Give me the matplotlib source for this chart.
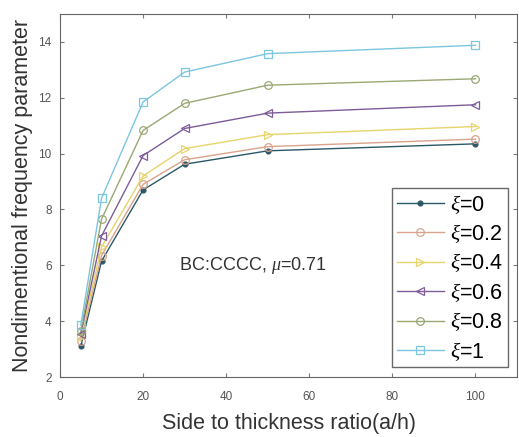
import matplotlib.pyplot as plt

plt.rcParams["font.family"] = ["Liberation Sans", "DejaVu Sans"]
plt.rcParams["mathtext.fontset"] = "custom"
plt.rcParams["mathtext.it"] = "Liberation Serif:italic"

# data
ratio = [5, 10, 20, 30, 50, 100]
xi_labels = ["0", "0.2", "0.4", "0.6", "0.8", "1"]
freq_xi0 = [3.10, 6.15, 8.70, 9.62, 10.10, 10.35]
freq_xi02 = [3.30, 6.35, 8.90, 9.78, 10.25, 10.52]
freq_xi04 = [3.45, 6.65, 9.20, 10.18, 10.68, 10.97]
freq_xi06 = [3.55, 7.05, 9.93, 10.90, 11.45, 11.75]
freq_xi08 = [3.65, 7.65, 10.83, 11.80, 12.45, 12.68]
freq_xi1 = [3.85, 8.40, 11.85, 12.92, 13.58, 13.88]

series = [freq_xi0, freq_xi02, freq_xi04, freq_xi06, freq_xi08, freq_xi1]
colors = ["#2b5868", "#d9a38c", "#e6d56a", "#7d5c98", "#9aa874", "#7cc6e0"]
markers = [".", "o", ">", "<", "o", "s"]

fig = plt.figure(figsize=(5.19, 4.37), dpi=100)
ax = fig.add_axes([60 / 519, 60 / 437, 457 / 519, 363 / 437])

for vals, lab, c, m in zip(series, xi_labels, colors, markers):
    filled = m == "."
    ax.plot(ratio, vals, color=c, marker=m, linewidth=1.0,
            markersize=7 if filled else 5.5,
            markerfacecolor=c if filled else "none",
            markeredgewidth=0.9, label=r"$\xi$=" + lab)

ax.set_xlim(0, 110)
ax.set_ylim(2, 15)
ax.set_xticks([0, 20, 40, 60, 80, 100])
ax.set_yticks([2, 4, 6, 8, 10, 12, 14])
ax.tick_params(direction="in", top=True, right=True, labelsize=8.5,
               labelcolor="#555555", color="#777777", length=3, pad=6)
ax.tick_params(axis="x", pad=10)
for s in ax.spines.values():
    s.set_color("#666666")

ax.set_xlabel("Side to thickness ratio(a/h)", fontsize=15.5, color="#333333",
              labelpad=7)
ax.set_ylabel("Nondimentional frequency parameter", fontsize=15.5, color="#333333",
              labelpad=4)

ax.text(28.6, 6.0, r"BC:CCCC, $\mu$=0.71", fontsize=13, color="#333333",
        va="center", ha="left")

leg = ax.legend(loc="lower right", bbox_to_anchor=(0.980, 0.0275), fontsize=15.5,
                frameon=True, fancybox=False, edgecolor="#444444",
                handlelength=2.2, labelspacing=0.3, borderpad=0.2,
                handletextpad=0.3, borderaxespad=0)
leg.get_frame().set_linewidth(1.0)

fig.savefig("out.png", dpi=100)
